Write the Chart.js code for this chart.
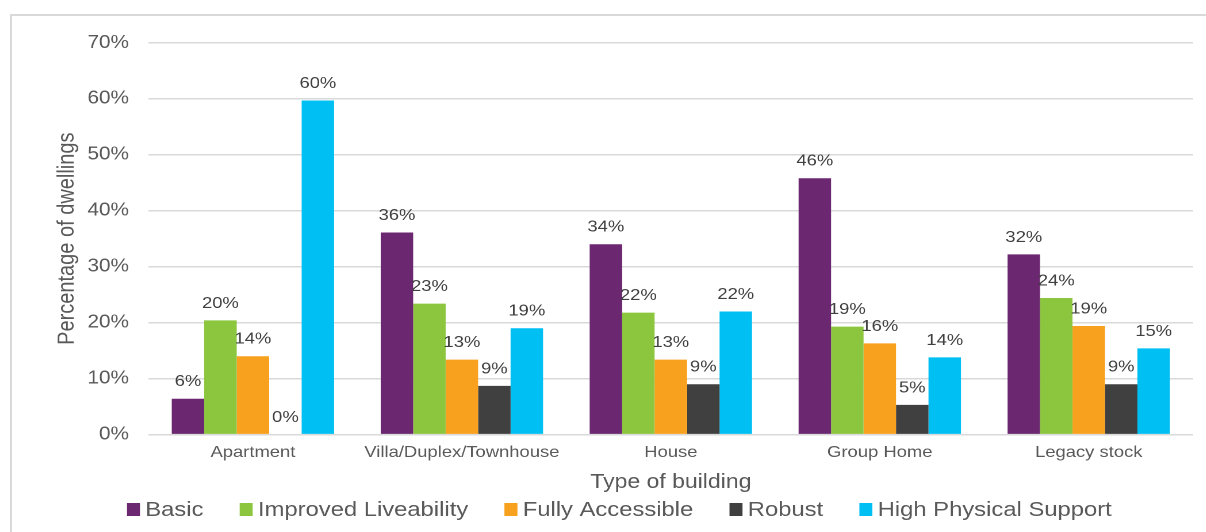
<!DOCTYPE html>
<html>
<head>
<meta charset="utf-8">
<title>Dwelling types by building</title>
<script src="https://cdn.jsdelivr.net/npm/chart.js@4/dist/chart.umd.min.js"></script>
<style>
  html, body { margin: 0; padding: 0; width: 1206px; height: 532px; overflow: hidden; background: #fff; }
  #frame {
    position: absolute; left: 10px; top: 14px; width: 1400px; height: 700px;
    border: 2px solid #d9d9d9; box-sizing: border-box;
  }
  #stage {
    position: absolute; left: 11px; top: 15px; width: 1058px; height: 525px;
    transform: scaleX(1.15); transform-origin: 0 0;
  }
</style>
</head>
<body>
<div id="frame"></div>
<div id="stage"><canvas id="chart" width="1058" height="525"></canvas></div>
<script>
// Building types along the horizontal axis
const categories = ['Apartment', 'Villa/Duplex/Townhouse', 'House', 'Group Home', 'Legacy stock'];

// Share of dwellings (%) in each design category
const basic      = [6.4, 36.1, 34.0, 45.8, 32.2];
const improved   = [20.4, 23.4, 21.8, 19.3, 24.4];
const fully      = [14.0, 13.4, 13.4, 16.3, 19.4];
const robust     = [0.0, 8.7, 9.0, 5.3, 9.0];
const highSupport = [59.7, 19.0, 22.0, 13.8, 15.4];

const seriesNames = ['Basic', 'Improved Liveability', 'Fully Accessible', 'Robust', 'High Physical Support'];
const seriesColors = ['#6b2770', '#8cc63f', '#f8a11e', '#404041', '#00bff2'];
const seriesValues = [basic, improved, fully, robust, highSupport];

// Y axis ticks: 0% to 70% in steps of 10
const yTicks = [0, 10, 20, 30, 40, 50, 60, 70];

const FONT = '"Liberation Sans", Arial, sans-serif';
const TEXT = '#595959';

// Percentage labels above each bar
const barLabels = {
  id: 'barLabels',
  afterDatasetsDraw(chart) {
    const ctx = chart.ctx;
    ctx.save();
    ctx.font = '16px ' + FONT;
    ctx.fillStyle = '#404040';
    ctx.textAlign = 'center';
    ctx.textBaseline = 'middle';
    chart.data.datasets.forEach((ds, i) => {
      const meta = chart.getDatasetMeta(i);
      meta.data.forEach((bar, j) => {
        ctx.fillText(Math.round(ds.data[j]) + '%', bar.x, bar.y - 17);
      });
    });
    ctx.restore();
  }
};

// Legend row with square swatches at the foot of the chart
const legendRow = {
  id: 'legendRow',
  afterDraw(chart) {
    const ctx = chart.ctx;
    ctx.save();
    ctx.font = '20.7px ' + FONT;
    ctx.textBaseline = 'middle';
    const boxW = 11.3, boxH = 13, gap = 4.6, itemGap = 31.5;
    const items = chart.data.datasets.map(ds => ({
      text: ds.label, color: ds.backgroundColor,
      w: boxW + gap + ctx.measureText(ds.label).width
    }));
    const total = items.reduce((s, it) => s + it.w, 0) + itemGap * (items.length - 1);
    let x = chart.width / 2 - total / 2;
    const y = 494.5;
    items.forEach(it => {
      ctx.fillStyle = it.color;
      ctx.fillRect(x, y - boxH / 2, boxW, boxH);
      ctx.fillStyle = TEXT;
      ctx.textAlign = 'left';
      ctx.fillText(it.text, x + boxW + gap, y + 1);
      x += it.w + itemGap;
    });
    ctx.restore();
  }
};

new Chart(document.getElementById('chart'), {
  type: 'bar',
  data: {
    labels: categories,
    datasets: seriesNames.map((name, i) => ({
      label: name,
      data: seriesValues[i],
      backgroundColor: seriesColors[i],
      borderWidth: 0,
      categoryPercentage: 0.777,
      barPercentage: 1.0
    }))
  },
  options: {
    responsive: false,
    animation: false,
    devicePixelRatio: 2,
    layout: { padding: { left: 33, right: 30, top: 26, bottom: 45.4 } },
    plugins: { legend: { display: false }, tooltip: { enabled: false } },
    scales: {
      x: {
        grid: { display: false, drawTicks: false },
        border: { display: false },
        ticks: { color: TEXT, font: { family: FONT, size: 16 }, padding: 8.4, maxRotation: 0, autoSkip: false },
        title: { display: true, text: 'Type of building', color: TEXT, font: { family: FONT, size: 20 }, padding: { top: 0, bottom: 0 } }
      },
      y: {
        min: 0,
        max: 70,
        afterBuildTicks(axis) { axis.ticks = yTicks.map(v => ({ value: v })); },
        grid: { color: '#d9d9d9', lineWidth: 1.5, drawTicks: false },
        border: { display: false },
        ticks: { color: TEXT, font: { family: FONT, size: 18 }, padding: 17, callback: v => v + '%' },
        title: { display: true, text: 'Percentage of dwellings', color: TEXT, font: { family: FONT, size: 20 }, padding: { top: 4, bottom: -11.5 } }
      }
    }
  },
  plugins: [barLabels, legendRow]
});
</script>
</body>
</html>
